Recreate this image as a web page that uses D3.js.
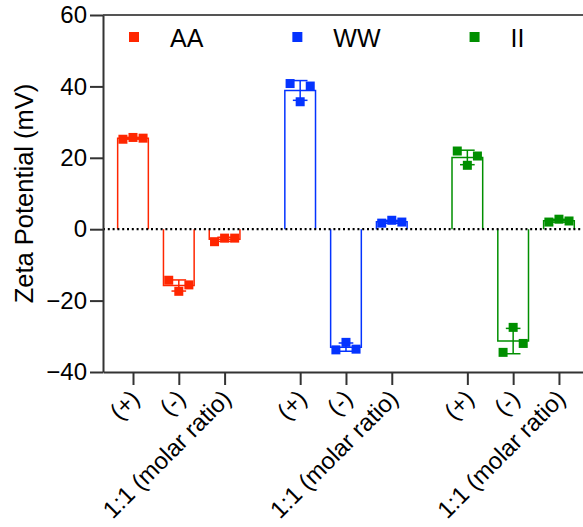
<!DOCTYPE html>
<html>
<head>
<meta charset="utf-8">
<script src="https://cdn.jsdelivr.net/npm/d3@7"></script>
<style>
  body { margin: 0; background: #fff; }
  svg { font-family: "Liberation Sans", Arial, sans-serif; }
</style>
</head>
<body>
<svg width="583" height="527"></svg>
<script>
// series names and the three conditions per series
var groups = ["AA", "WW", "II"];
var conditions = ["(+)", "(-)", "1:1 (molar ratio)"];
var colors = ["#ff2600", "#0433ff", "#008f00"];

// replicate values (mV), left to right as plotted
var aaValues = [[25.2, 25.7, 25.5], [-14.3, -17.4, -15.6], [-3.5, -2.5, -2.5]];
var wwValues = [[40.8, 35.7, 40.1], [-33.8, -31.7, -33.6], [1.7, 2.5, 2.0]];
var iiValues = [[21.9, 17.9, 20.5], [-34.5, -27.5, -32.0], [2.0, 2.8, 2.3]];

var yTicks = [-40, -20, 0, 20, 40, 60];

var allValues = [aaValues, wwValues, iiValues];

var svg = d3.select("svg"),
    margin = {top: 15, right: 0, bottom: 155, left: 103},
    W = +svg.attr("width"),
    H = +svg.attr("height");

var groupGap = 3.65; // slot distance between group starts

// slot index -> pixel
var x = d3.scaleLinear()
    .domain([-0.655, 9.825])
    .range([margin.left, W - margin.right]);

var y = d3.scaleLinear()
    .domain([-40, 60])
    .range([H - margin.bottom, margin.top]);

// build table of bars
var bars = [];
allValues.forEach(function(gv, g) {
  gv.forEach(function(vals, j) {
    bars.push({
      group: g,
      cond: j,
      slot: g * groupGap + j,
      values: vals,
      mean: d3.mean(vals),
      sd: d3.deviation(vals)
    });
  });
});

var halfBar = 0.335, capHalf = 0.16, ptStep = 0.22, ptSize = 9;

// bars (open, outlined)
svg.append("g").selectAll("path")
  .data(bars)
  .enter().append("path")
    .attr("d", function(d) {
      return "M" + x(d.slot - halfBar) + "," + y(0) +
             "V" + y(d.mean) + "H" + x(d.slot + halfBar) + "V" + y(0);
    })
    .attr("fill", "none")
    .attr("stroke", function(d) { return colors[d.group]; })
    .attr("stroke-width", 1.5);

// dotted zero line
svg.append("line")
    .attr("x1", x.range()[0]).attr("x2", x.range()[1])
    .attr("y1", y(0)).attr("y2", y(0))
    .attr("stroke", "#000")
    .attr("stroke-width", 2.2)
    .attr("stroke-dasharray", "2,2.8");

// error bars (mean +/- SD)
var eb = svg.append("g").selectAll("g")
  .data(bars)
  .enter().append("g")
    .attr("stroke", function(d) { return colors[d.group]; })
    .attr("stroke-width", 1.5);
eb.append("line")
    .attr("x1", d => x(d.slot)).attr("x2", d => x(d.slot))
    .attr("y1", d => y(d.mean - d.sd)).attr("y2", d => y(d.mean + d.sd));
eb.append("line")
    .attr("x1", d => x(d.slot - capHalf)).attr("x2", d => x(d.slot + capHalf))
    .attr("y1", d => y(d.mean - d.sd)).attr("y2", d => y(d.mean - d.sd));
eb.append("line")
    .attr("x1", d => x(d.slot - capHalf)).attr("x2", d => x(d.slot + capHalf))
    .attr("y1", d => y(d.mean + d.sd)).attr("y2", d => y(d.mean + d.sd));

// replicate points
svg.append("g").selectAll("g")
  .data(bars)
  .enter().append("g")
    .attr("fill", d => colors[d.group])
  .selectAll("rect")
  .data(function(d) { return d.values.map(function(v, k) { return {slot: d.slot + (k - 1) * ptStep, value: v}; }); })
  .enter().append("rect")
    .attr("x", d => x(d.slot) - ptSize / 2)
    .attr("y", d => y(d.value) - ptSize / 2)
    .attr("width", ptSize)
    .attr("height", ptSize);

// top frame line
svg.append("line")
    .attr("x1", x.range()[0]).attr("x2", x.range()[1])
    .attr("y1", y(60)).attr("y2", y(60))
    .attr("stroke", "#555")
    .attr("stroke-width", 2);

// y axis
var gy = svg.append("g")
    .attr("transform", "translate(" + margin.left + ",0)")
    .style("color", "#333")
    .call(d3.axisLeft(y).tickValues(yTicks).tickSize(13).tickSizeOuter(0).tickPadding(3));
gy.selectAll("path, line").attr("stroke-width", 2);
gy.selectAll("text").attr("font-size", 24).attr("fill", "#000").attr("font-family", null);

// x axis
var slots = bars.map(d => d.slot);
var gx = svg.append("g")
    .attr("transform", "translate(0," + y(-40) + ")")
    .style("color", "#333")
    .call(d3.axisBottom(x).tickValues(slots)
      .tickFormat(function(d, i) { return conditions[i % conditions.length]; })
      .tickSize(13).tickSizeOuter(0));
gx.selectAll("path, line").attr("stroke-width", 2);
gx.selectAll("text")
    .attr("font-size", 24).attr("fill", "#000").attr("font-family", null)
    .attr("x", 0).attr("y", 0).attr("dy", 0)
    .attr("text-anchor", "end")
    .attr("transform", "translate(7.5,28) rotate(-45)");

// y axis title
svg.append("text")
    .attr("transform", "translate(33," + (y(10)) + ") rotate(-90)")
    .attr("text-anchor", "middle")
    .attr("font-size", 25.5)
    .text("Zeta Potential (mV)");

// legend, laid out left to right
var lx = 129;
groups.forEach(function(name, i) {
  svg.append("rect")
      .attr("x", lx).attr("y", 32)
      .attr("width", 10).attr("height", 10)
      .attr("fill", colors[i]);
  var t = svg.append("text")
      .attr("x", lx + 41).attr("y", 46.5)
      .attr("font-size", 25)
      .text(name);
  lx += 41 + t.node().getComputedTextLength() + 89;
});
</script>
</body>
</html>
